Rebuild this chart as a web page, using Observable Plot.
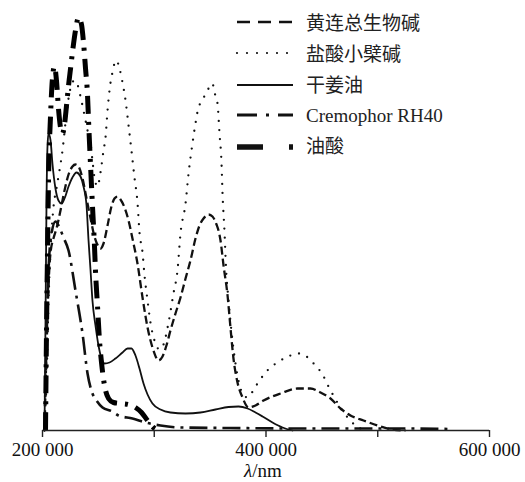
<!DOCTYPE html>
<html>
<head>
<meta charset="utf-8">
<script src="https://cdn.jsdelivr.net/npm/d3@7"></script>
<script src="https://cdn.jsdelivr.net/npm/@observablehq/plot@0.6"></script>
<style>
  html, body { margin: 0; padding: 0; background: #fff; }
  #chart { width: 525px; height: 482px; }
</style>
</head>
<body>
<div id="chart"></div>
<script>
// ---- Data (wavelength in nm, absorbance in arbitrary units) ----
const tickValues = [200, 300, 400, 500, 600];
const tickLabels = ["200 000", "", "400 000", "", "600 000"];
const seriesNames = ["黄连总生物碱", "盐酸小檗碱", "干姜油", "Cremophor RH40", "油酸"];

// 黄连总生物碱
const wlCoptis = [201.8, 203.6, 205.4, 207.2, 209.8, 212.5, 216.1, 219.7, 223.3, 226.8, 229.5, 232.2, 235.8, 239.4, 243.0, 246.5, 250.1, 251.9, 254.6, 258.2, 261.7, 264.4, 267.1, 269.8, 273.4, 277.0, 280.5, 285.0, 289.5, 294.0, 299.3, 303.8, 307.4, 310.9, 314.5, 319.0, 323.5, 328.0, 332.4, 336.9, 340.5, 344.1, 348.6, 352.1, 355.7, 357.5, 359.3, 362.0, 365.6, 368.2, 370.9, 374.5, 379.0, 384.3, 390.6, 397.8, 413.0, 428.2, 439.8, 448.8, 457.7, 466.7, 475.6, 487.3, 499.8, 513.2, 524.8];
const absCoptis = [0, 0.80, 1.45, 1.78, 1.92, 2.02, 2.20, 2.40, 2.56, 2.64, 2.66, 2.64, 2.52, 2.32, 2.12, 1.94, 1.84, 1.82, 1.87, 2.05, 2.24, 2.32, 2.34, 2.31, 2.23, 2.10, 1.92, 1.67, 1.33, 1.03, 0.80, 0.70, 0.74, 0.85, 1.00, 1.17, 1.33, 1.52, 1.70, 1.92, 2.05, 2.12, 2.16, 2.14, 2.06, 2.00, 1.90, 1.65, 1.35, 1.03, 0.72, 0.48, 0.33, 0.23, 0.25, 0.30, 0.37, 0.42, 0.42, 0.38, 0.32, 0.22, 0.15, 0.10, 0.05, 0.01, 0];

// 盐酸小檗碱
const wlBerberine = [201.8, 203.6, 205.4, 207.2, 209.8, 212.5, 215.2, 217.9, 220.6, 223.3, 226.0, 228.6, 231.3, 234.0, 237.6, 240.3, 243.0, 244.7, 246.5, 249.2, 251.9, 254.6, 256.4, 258.2, 260.9, 262.6, 264.4, 266.2, 268.9, 271.6, 274.3, 277.0, 279.6, 282.3, 285.0, 286.8, 289.5, 291.3, 294.0, 296.6, 300.2, 304.7, 308.3, 312.8, 317.2, 320.8, 323.5, 328.0, 330.7, 334.2, 336.9, 339.6, 343.2, 345.9, 348.6, 352.1, 353.9, 356.6, 358.4, 360.2, 361.1, 362.9, 364.2, 366.5, 370.0, 374.5, 379.0, 383.5, 390.6, 399.6, 413.0, 421.9, 429.1, 436.2, 443.4, 450.6, 455.9, 461.3, 467.6, 473.8, 480.1, 489.1];
const absBerberine = [0, 0.50, 1.30, 1.80, 2.23, 2.42, 2.60, 2.80, 3.08, 3.32, 3.46, 3.50, 3.46, 3.34, 3.15, 3.00, 2.87, 2.70, 2.53, 2.44, 2.58, 2.80, 2.93, 3.20, 3.48, 3.58, 3.67, 3.70, 3.62, 3.48, 3.30, 3.05, 2.80, 2.53, 2.28, 1.98, 1.78, 1.55, 1.30, 1.08, 0.90, 0.81, 0.86, 1.08, 1.37, 1.60, 1.97, 2.27, 2.57, 2.87, 3.07, 3.23, 3.30, 3.37, 3.42, 3.47, 3.38, 3.27, 2.97, 2.67, 2.37, 1.98, 1.63, 1.30, 0.90, 0.55, 0.37, 0.33, 0.44, 0.58, 0.70, 0.75, 0.77, 0.74, 0.66, 0.56, 0.44, 0.33, 0.21, 0.12, 0.05, 0];

// 干姜油
const wlGinger = [201.8, 202.7, 203.6, 204.5, 205.4, 207.2, 208.9, 211.6, 214.3, 217.0, 219.7, 223.3, 226.8, 230.4, 234.0, 236.7, 239.4, 241.2, 243.0, 244.7, 247.4, 250.1, 252.8, 255.5, 260.0, 265.3, 271.6, 276.1, 279.6, 283.2, 286.8, 290.4, 294.0, 298.4, 305.6, 314.5, 328.0, 341.4, 354.8, 366.5, 375.4, 383.5, 390.6, 396.9, 405.8, 414.8, 423.7];
const absGinger = [0, 1.10, 2.30, 2.85, 2.97, 2.90, 2.67, 2.42, 2.30, 2.27, 2.32, 2.44, 2.53, 2.58, 2.54, 2.44, 2.25, 1.90, 1.60, 1.30, 1.05, 0.85, 0.72, 0.67, 0.68, 0.72, 0.78, 0.82, 0.82, 0.75, 0.62, 0.47, 0.36, 0.27, 0.21, 0.18, 0.17, 0.18, 0.21, 0.235, 0.24, 0.22, 0.18, 0.14, 0.08, 0.03, 0];

// Cremophor RH40
const wlCremophor = [201.8, 203.6, 205.4, 208.1, 211.6, 215.2, 218.8, 223.3, 229.5, 235.8, 240.3, 244.7, 248.3, 253.7, 262.6, 268.0, 280.5, 292.2, 305.6, 323.5, 368.2, 430.9, 520.4, 565.1];
const absCremophor = [0, 0.90, 1.60, 1.97, 2.09, 2.03, 1.93, 1.80, 1.40, 0.97, 0.57, 0.37, 0.30, 0.23, 0.19, 0.15, 0.12, 0.08, 0.05, 0.03, 0.025, 0.02, 0.02, 0.015];

// 油酸
const wlOleic = [202.7, 203.6, 204.5, 205.4, 207.2, 208.9, 210.7, 212.5, 214.3, 216.1, 217.9, 219.7, 221.5, 223.3, 225.1, 226.8, 229.5, 232.2, 234.9, 236.7, 238.5, 240.3, 241.2, 243.0, 244.7, 246.5, 247.4, 249.2, 251.0, 252.8, 255.5, 259.1, 263.5, 269.8, 277.0, 283.2, 288.6, 294.0, 299.3, 305.6];
const absOleic = [0, 1.00, 1.80, 2.50, 3.15, 3.52, 3.64, 3.50, 3.22, 3.03, 2.97, 3.06, 3.25, 3.45, 3.62, 3.78, 4.00, 4.13, 4.06, 3.88, 3.62, 3.35, 3.10, 2.65, 2.25, 1.85, 1.60, 1.25, 0.90, 0.68, 0.45, 0.32, 0.28, 0.27, 0.26, 0.23, 0.18, 0.10, 0.03, 0];

const rows = (wl, ab) => wl.map((w, i) => ({wl: w, abs: ab[i]}));

const fontStack = '"Liberation Serif", "Times New Roman", "Noto Sans CJK SC", serif';

const styles = [
  {stroke: "#111", strokeWidth: 2.3, strokeDasharray: "8,4", strokeLinecap: "butt"},
  {stroke: "#111", strokeWidth: 2.3, strokeDasharray: "0,9", strokeLinecap: "round"},
  {stroke: "#111", strokeWidth: 1.8},
  {stroke: "#111", strokeWidth: 2.6, strokeDasharray: "18,6,3,6", strokeLinecap: "butt"},
  {stroke: "#000", strokeWidth: 5, strokeDasharray: "18,8,3,8", strokeLinecap: "butt"}
];

const series = [
  rows(wlCoptis, absCoptis),
  rows(wlBerberine, absBerberine),
  rows(wlGinger, absGinger),
  rows(wlCremophor, absCremophor),
  rows(wlOleic, absOleic)
];

const chart = Plot.plot({
  width: 525,
  height: 482,
  marginLeft: 42,
  marginRight: 36,
  marginTop: 12,
  marginBottom: 52,
  style: {fontFamily: fontStack, fontSize: "19px", color: "#222", background: "#fff"},
  x: {domain: [200, 600]},
  y: {domain: [0, 4.18], axis: null},
  marks: [
    ...series.map((d, i) => Plot.line(d, {x: "wl", y: "abs", curve: "monotone-x", ...styles[i]})),
    Plot.ruleY([0], {stroke: "#222", strokeWidth: 1.6}),
    Plot.axisX({
      ticks: tickValues,
      tickFormat: d => tickLabels[tickValues.indexOf(d)],
      tickSize: 7,
      tickPadding: 5,
      fontSize: 19,
      stroke: "#222",
      strokeWidth: 1.4,
      fill: "#111",
      label: null
    })
  ]
});

document.getElementById("chart").appendChild(chart);

// x-axis title with italic lambda
const svg = d3.select(chart);
const xt = svg.append("text")
  .attr("x", 263).attr("y", 477)
  .attr("text-anchor", "middle")
  .attr("font-family", fontStack)
  .attr("font-size", 19)
  .attr("fill", "#111");
xt.append("tspan").attr("font-style", "italic").text("λ");
xt.append("tspan").text("/nm");

// legend
const legendRows = [22, 53, 85, 115, 147];
const legendBase = [30, 61, 92, 122, 153];
const lg = svg.append("g").attr("text-anchor", "start");
const sampleStyles = [
  {w: 2.5, dash: "13,8", cap: "butt"},
  {w: 2.2, dash: "0,10", cap: "round"},
  {w: 2, dash: null, cap: "butt"},
  {w: 3, dash: "20,9,3,9", cap: "butt"},
  {w: 5.5, dash: "26,26,4", cap: "butt"}
];
seriesNames.forEach((name, i) => {
  const s = sampleStyles[i];
  const ln = lg.append("line")
    .attr("x1", 237).attr("x2", 293)
    .attr("y1", legendRows[i]).attr("y2", legendRows[i])
    .attr("stroke", "#111")
    .attr("stroke-width", s.w)
    .attr("stroke-linecap", s.cap);
  if (s.dash) ln.attr("stroke-dasharray", s.dash);
  lg.append("text")
    .attr("x", 306).attr("y", legendBase[i])
    .attr("text-anchor", "start")
    .attr("font-family", fontStack)
    .attr("font-size", 19)
    .attr("fill", "#222")
    .text(name);
});
</script>
</body>
</html>
